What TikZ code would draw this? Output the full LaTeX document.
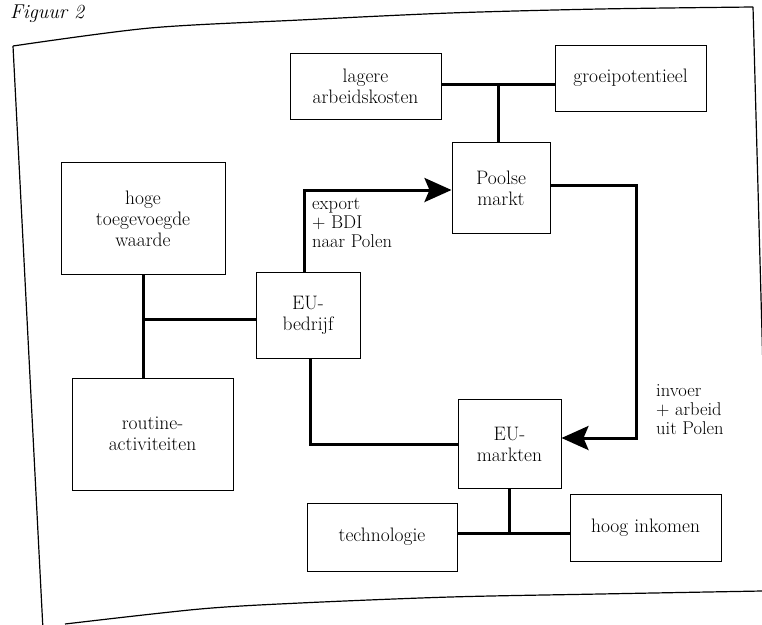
\documentclass[tikz,border=0pt]{standalone}
\usetikzlibrary{arrows.meta}
\tikzset{
  box/.style={draw, line width=1pt, align=center, inner sep=0pt,
    font=\fontsize{19.5}{21}\selectfont},
  link/.style={line width=3pt},
  flow/.style={line width=3pt, -{Stealth[length=27pt,width=24pt,inset=5pt]}},
  note/.style={align=left, inner sep=0pt, anchor=north west,
    font=\fontsize{18.5}{19}\selectfont},
  frame/.style={line width=1.2pt}
}

\begin{document}
\begin{tikzpicture}[x=1pt,y=-1pt]
\useasboundingbox (0,0) rectangle (762,624);
\clip (0,0) rectangle (762,624);

% Caption
\node[anchor=base west, inner sep=0pt, font=\fontsize{20}{20}\selectfont\itshape] (caption) at (10,18) {Figuur 2};

% Page frame
\draw[frame] plot[smooth] coordinates {(13,46) (150,28) (300,20) (450,13) (600,9) (753,7)};
\draw[frame] (13,46) -- (43,630);
\draw[frame] (753,7) -- (770,624);
\draw[frame] plot[smooth] coordinates {(65,624) (200,609) (300,603) (450,597) (600,594) (762,591)};

% Boxes
\node[box, minimum width=151pt, minimum height=66pt] (lagere) at (365.5,86) {lagere\\arbeidskosten};
\node[box, minimum width=151pt, minimum height=66pt] (groei) at (630.5,78) {groeipotentieel};
\node[box, minimum width=98pt, minimum height=91pt] (poolse) at (501,188) {Poolse\\markt};
\node[box, minimum width=164pt, minimum height=112pt] (hoge) at (143,218.5) {hoge\\toegevoegde\\waarde};
\node[box, minimum width=104pt, minimum height=86pt] (bedrijf) at (308,315) {EU-\\bedrijf};
\node[box, minimum width=161pt, minimum height=112pt] (routine) at (152.5,434) {routine-\\activiteiten};
\node[box, minimum width=103pt, minimum height=89pt] (markten) at (509.5,444) {EU-\\markten};
\node[box, minimum width=150pt, minimum height=68pt] (techno) at (382,537) {technologie};
\node[box, minimum width=151pt, minimum height=67pt] (inkomen) at (645.5,527.5) {hoog inkomen};

% Junctions
\coordinate (top) at (498,84);
\coordinate (base) at (509.5,533);
\coordinate (turn) at (636,0);
\coordinate (out) at ([yshift=3pt]poolse.east);
\coordinate (in) at ([yshift=6pt]markten.east);

% Thin links
\draw[link] (top -| lagere.east) -- (top -| groei.west);
\draw[link] (top) -- (top |- poolse.north);
\draw[link] (hoge.south) -- (hoge.south |- routine.north);
\draw[link] ([yshift=-4pt]bedrijf.west) -- ([yshift=-4pt]bedrijf.west -| hoge.south);
\draw[link] (markten.south) -- (markten.south |- base);
\draw[link] (base -| techno.east) -- (base -| inkomen.west);
\draw[link] ([xshift=2pt]bedrijf.south) |- (markten.west);

% Flows
\draw[flow] ([xshift=-4pt]bedrijf.north) |- ([yshift=-2pt]poolse.west);
\draw[flow] (out) -- (out -| turn) -- (turn |- in) -- (in);

% Flow labels
\node[note] (export) at (312,198) {export\\+ BDI\\naar Polen};
\node[note] (invoer) at (656,384) {invoer\\+ arbeid\\uit Polen};
\end{tikzpicture}
\end{document}
